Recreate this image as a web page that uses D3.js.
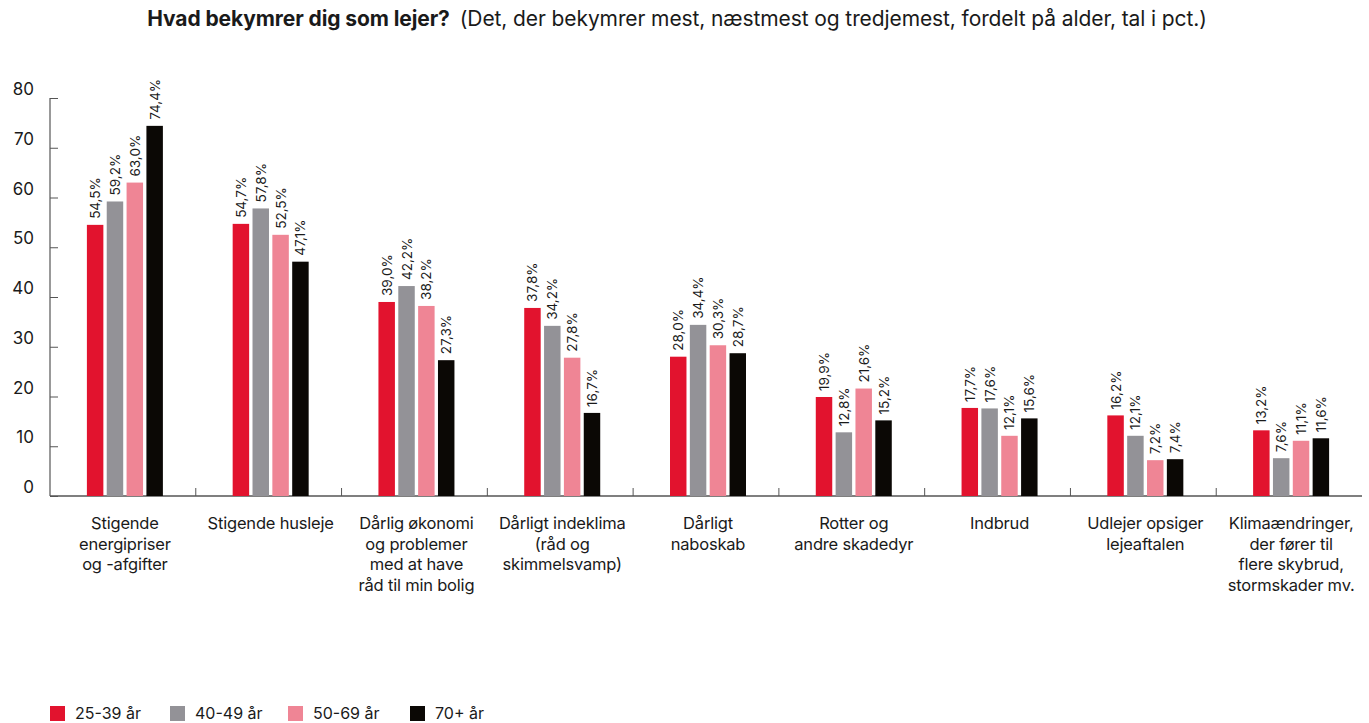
<!DOCTYPE html>
<html><head><meta charset="utf-8">
<script src="https://cdn.jsdelivr.net/npm/d3@7"></script>
<style>
body{margin:0;background:#fff;}
text{font-family:Inter,"Open Sans",sans-serif;}
</style></head>
<body><svg id="c" width="1369" height="723"></svg>
<script>
const categories = [
  ["Stigende","energipriser","og -afgifter"],
  ["Stigende husleje"],
  ["Dårlig økonomi","og problemer","med at have","råd til min bolig"],
  ["Dårligt indeklima","(råd og","skimmelsvamp)"],
  ["Dårligt","naboskab"],
  ["Rotter og","andre skadedyr"],
  ["Indbrud"],
  ["Udlejer opsiger","lejeaftalen"],
  ["Klimaændringer,","der fører til","flere skybrud,","stormskader mv."]
];
const seriesNames = ["25-39 år","40-49 år","50-69 år","70+ år"];
const s2539 = [54.5,54.7,39.0,37.8,28.0,19.9,17.7,16.2,13.2];
const s4049 = [59.2,57.8,42.2,34.2,34.4,12.8,17.6,12.1,7.6];
const s5069 = [63.0,52.5,38.2,27.8,30.3,21.6,12.1,7.2,11.1];
const s70 = [74.4,47.1,27.3,16.7,28.7,15.2,15.6,7.4,11.6];
const yTicks = [0,10,20,30,40,50,60,70,80];
const colors = ["#e2132e","#939297","#ef8595","#0b0805"];

const series = [s2539,s4049,s5069,s70];
const svg = d3.select("#c");
const mL=50, mR=1362, mT=98, mB=496;
const x = d3.scaleBand().domain(d3.range(categories.length)).range([mL,mR]).padding(0);
const y = d3.scaleLinear().domain([0,80]).range([mB,mT]);
const inner = d3.scaleBand().domain(d3.range(4)).range([0,76]).paddingInner(0.17);
const gOff = (x.bandwidth()-76)/2+2;

// title
const t = svg.append("text").attr("x",677).attr("y",26).attr("text-anchor","middle")
  .style("font-size","21px").attr("fill","#1a1a1a").attr("letter-spacing","-0.1");
t.append("tspan").attr("font-weight","700").text("Hvad bekymrer dig som lejer?");
t.append("tspan").attr("dx",10).attr("font-weight","400").text("(Det, der bekymrer mest, næstmest og tredjemest, fordelt på alder, tal i pct.)");

// y axis
const ya = svg.append("g").attr("transform",`translate(${mL},0)`)
  .call(d3.axisRight(y).tickValues(yTicks).tickSize(8).tickFormat(""));
ya.select(".domain").remove();
ya.selectAll("line").attr("stroke","#555");
svg.append("line").attr("x1",mL).attr("x2",mL).attr("y1",mT).attr("y2",mB).attr("stroke","#555").attr("stroke-width",1.2);
svg.selectAll(".ylab").data(yTicks).join("text").attr("class","ylab")
  .attr("x",34).attr("y",d=>y(d)-3).attr("text-anchor","end")
  .style("font-size","17px").attr("fill","#1a1a1a").text(d=>d);

// x axis
svg.append("line").attr("x1",mL).attr("x2",mR).attr("y1",mB).attr("y2",mB).attr("stroke","#555").attr("stroke-width",1.5);
svg.selectAll(".xt").data(d3.range(1,categories.length)).join("line").attr("class","xt")
  .attr("x1",d=>x(d)).attr("x2",d=>x(d)).attr("y1",mB-8).attr("y2",mB).attr("stroke","#555");

// bars
series.forEach((s,si)=>{
  svg.selectAll(".b"+si).data(s).join("rect").attr("class","b"+si)
    .attr("x",(d,i)=>x(i)+gOff+inner(si)).attr("width",inner.bandwidth())
    .attr("y",d=>y(d)).attr("height",d=>mB-y(d)).attr("fill",colors[si]);
  svg.selectAll(".l"+si).data(s).join("text").attr("class","l"+si)
    .attr("transform",(d,i)=>`translate(${x(i)+gOff+inner(si)+inner.bandwidth()/2+5},${y(d)-6}) rotate(-90)`)
    .style("font-size","13.5px").attr("fill","#1a1a1a")
    .text(d=>d.toFixed(1).replace(".",",")+"%");
});

// category labels
categories.forEach((lines,i)=>{
  const cx = x(i)+x.bandwidth()/2+2;
  const tx = svg.append("text").attr("x",cx).attr("y",529).attr("text-anchor","middle")
    .style("font-size","16.5px").attr("fill","#1a1a1a").attr("letter-spacing","-0.2");
  lines.forEach((l,j)=>tx.append("tspan").attr("x",cx).attr("dy",j?20.5:0).text(l));
});

// legend
const legX = [50,170,288,410];
seriesNames.forEach((n,i)=>{
  svg.append("rect").attr("x",legX[i]).attr("y",706).attr("width",15).attr("height",15).attr("fill",colors[i]);
  svg.append("text").attr("x",legX[i]+25).attr("y",719).style("font-size","16px").attr("fill","#1a1a1a").text(n);
});
</script></body></html>
